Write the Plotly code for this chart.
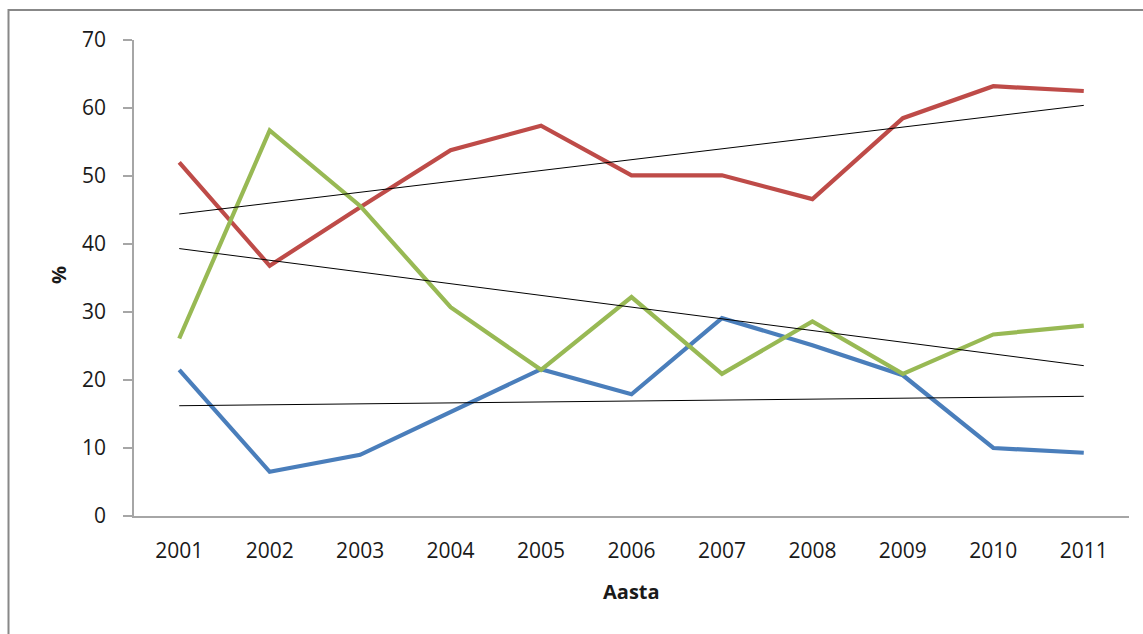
import numpy as np
import plotly.graph_objects as go

years = ["2001", "2002", "2003", "2004", "2005", "2006", "2007", "2008", "2009", "2010", "2011"]
blue = [21.5, 6.5, 9.0, 15.3, 21.6, 17.9, 29.1, 25.1, 20.7, 10.0, 9.3]
red = [52.0, 36.8, 45.4, 53.8, 57.4, 50.1, 50.1, 46.6, 58.5, 63.2, 62.5]
green = [26.1, 56.7, 45.6, 30.7, 21.5, 32.2, 20.9, 28.6, 20.9, 26.7, 28.0]
y_ticks = [0, 10, 20, 30, 40, 50, 60, 70]

series = [(blue, "#4A7EBB"), (red, "#BE4B48"), (green, "#98B954")]

fig = go.Figure()
idx = np.arange(len(years))
for vals, col in series:
    fig.add_trace(go.Scatter(x=years, y=vals, mode="lines",
                             line=dict(color=col, width=4.2), showlegend=False))
for vals, col in series:
    k, b = np.polyfit(idx, vals, 1)
    fig.add_trace(go.Scatter(x=years, y=k * idx + b, mode="lines",
                             line=dict(color="black", width=1), showlegend=False))

W, H = 1143, 634
l, r, t, bm = 134, 14, 40, 118
pw, ph = W - l - r, H - t - bm

def px(xp):
    return (xp - l) / pw

def py(yp):
    return (H - bm - yp) / ph

fig.update_layout(
    width=W, height=H,
    margin=dict(l=l, r=r, t=t, b=bm),
    paper_bgcolor="white", plot_bgcolor="white",
    font=dict(family="Open Sans, Lato, sans-serif", color="#1a1a1a"),
    xaxis=dict(type="category", range=[-0.5, 10.5], showgrid=False,
               showline=True, linecolor="#A6A6A6", linewidth=1.5,
               ticks="", tickfont=dict(size=21), ticklabelstandoff=15),
    yaxis=dict(range=[0, 70], tickvals=y_ticks, showgrid=False, zeroline=False,
               showline=True, linecolor="#A6A6A6", linewidth=1.5,
               ticks="outside", ticklen=9, tickcolor="#A6A6A6", tickwidth=1.5,
               tickfont=dict(size=21), ticklabelstandoff=13),
    shapes=[dict(type="rect", xref="paper", yref="paper",
                 x0=px(8.5), x1=px(1155), y0=py(10), y1=py(645),
                 line=dict(color="#888888", width=2), fillcolor="rgba(0,0,0,0)")],
    annotations=[
        dict(text="<b>Aasta</b>", xref="paper", yref="paper", x=px(631), y=py(591),
             showarrow=False, font=dict(size=20), xanchor="center", yanchor="middle"),
        dict(text="<b>%</b>", xref="paper", yref="paper", x=px(58), y=py(275),
             showarrow=False, font=dict(size=20), textangle=-90,
             xanchor="center", yanchor="middle"),
    ],
)

fig.write_html("out.html")
